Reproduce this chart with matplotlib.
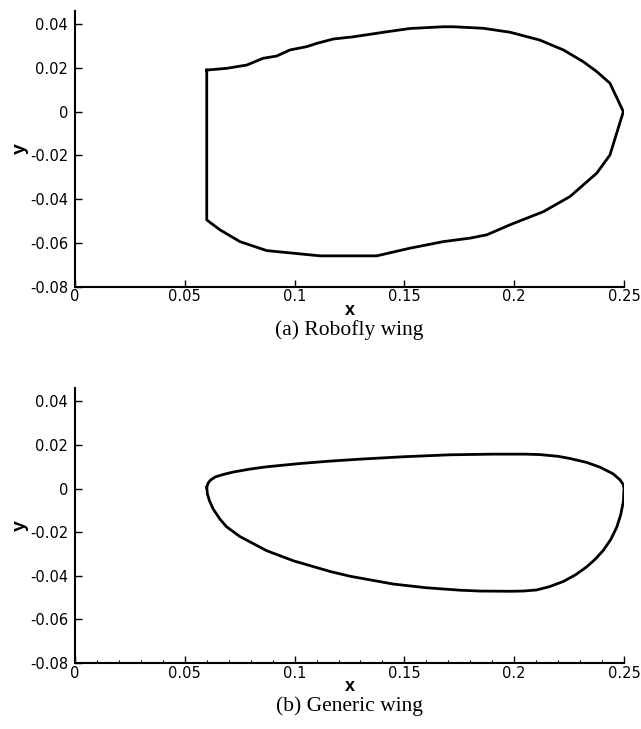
import matplotlib
matplotlib.use("Agg")
import matplotlib.pyplot as plt
from matplotlib.ticker import MultipleLocator

# Robofly wing outline (x, y)
robofly_x = [0.0600, 0.0691, 0.0782, 0.0857, 0.0918, 0.0979, 0.1055, 0.1101, 0.1176, 0.1267,
             0.1419, 0.1525, 0.1677, 0.1723, 0.1859, 0.1981, 0.2117, 0.2224, 0.2315, 0.2376,
             0.2436, 0.2497, 0.2436, 0.2376, 0.2254, 0.2133, 0.1981, 0.1875, 0.1799, 0.1677,
             0.1525, 0.1374, 0.1222, 0.1116, 0.0994, 0.0873, 0.0751, 0.0660, 0.0600, 0.0600]
robofly_y = [0.0190, 0.0198, 0.0213, 0.0244, 0.0254, 0.0282, 0.0297, 0.0312, 0.0332, 0.0342,
             0.0365, 0.0380, 0.0388, 0.0388, 0.0381, 0.0363, 0.0327, 0.0282, 0.0228, 0.0183,
             0.0130, 0.0000, -0.0198, -0.0281, -0.0388, -0.0457, -0.0517, -0.0563, -0.0578, -0.0594,
             -0.0624, -0.0659, -0.0659, -0.0659, -0.0647, -0.0635, -0.0594, -0.0540, -0.0495, 0.0190]

# Generic wing outline (x, y)
generic_x = [0.0600, 0.0606, 0.0618, 0.0640, 0.0680, 0.0721, 0.0800, 0.0873, 0.1025, 0.1161,
             0.1298, 0.1495, 0.1708, 0.1905, 0.2050, 0.2117, 0.2200, 0.2254, 0.2330, 0.2391,
             0.2450, 0.2482, 0.2497, 0.2500, 0.2497, 0.2485, 0.2467, 0.2440, 0.2406, 0.2370,
             0.2330, 0.2280, 0.2224, 0.2160, 0.2102, 0.2040, 0.1981, 0.1844, 0.1753, 0.1601,
             0.1450, 0.1252, 0.1161, 0.0994, 0.0873, 0.0751, 0.0690, 0.0660, 0.0630, 0.0612,
             0.0603, 0.0600]
generic_y = [0.0006, 0.0025, 0.0040, 0.0054, 0.0066, 0.0076, 0.0090, 0.0100, 0.0115, 0.0126,
             0.0135, 0.0146, 0.0155, 0.0158, 0.0158, 0.0156, 0.0148, 0.0138, 0.0120, 0.0098,
             0.0068, 0.0040, 0.0018, 0.0000, -0.0060, -0.0120, -0.0177, -0.0233, -0.0283, -0.0323,
             -0.0359, -0.0395, -0.0426, -0.0450, -0.0465, -0.0470, -0.0471, -0.0470, -0.0466, -0.0455,
             -0.0438, -0.0402, -0.0380, -0.0331, -0.0285, -0.0220, -0.0175, -0.0140, -0.0095, -0.0055,
             -0.0025, 0.0006]

xticks = [0, 0.05, 0.1, 0.15, 0.2, 0.25]
xticklabels = ["0", "0.05", "0.1", "0.15", "0.2", "0.25"]
yticks = [-0.08, -0.06, -0.04, -0.02, 0, 0.02, 0.04]
yticklabels = ["-0.08", "-0.06", "-0.04", "-0.02", "0", "0.02", "0.04"]
captions = ["(a) Robofly wing", "(b) Generic wing"]

W, H = 641, 729
fig = plt.figure(figsize=(W / 100, H / 100), dpi=100)

def make_axes(top_px, bottom_px):
    left = 75 / W
    width = 549 / W
    bottom = 1 - bottom_px / H
    height = (bottom_px - top_px) / H
    return fig.add_axes([left, bottom, width, height])

axes_px = [(11, 286.7), (388.3, 663)]
outlines = [(robofly_x, robofly_y), (generic_x, generic_y)]

for i, ((t, b), (xs, ys)) in enumerate(zip(axes_px, outlines)):
    ax = make_axes(t, b)
    ax.plot(xs, ys, color="black", lw=2.0, solid_joinstyle="round")
    ax.set_xlim(0, 0.25)
    ax.set_ylim(-0.08, 0.046)
    for s in ["top", "right"]:
        ax.spines[s].set_visible(False)
    for s in ["left", "bottom"]:
        ax.spines[s].set_linewidth(1.5)
    ax.set_xticks(xticks)
    ax.set_xticklabels(xticklabels, fontsize=10.5, family="DejaVu Sans")
    ax.set_yticks(yticks)
    ax.set_yticklabels(yticklabels, fontsize=10.5, family="DejaVu Sans")
    ax.tick_params(axis="both", which="major", direction="in", length=5, width=1.0)
    ax.tick_params(axis="x", which="major", pad=2)
    ax.tick_params(axis="y", which="major", pad=5)
    if i == 1:
        ax.xaxis.set_minor_locator(MultipleLocator(0.01))
        ax.tick_params(axis="x", which="minor", direction="in", length=2, width=0.8)
    ax.set_xlabel("x", fontsize=13, fontweight="bold", family="Liberation Sans", labelpad=-2)
    ax.set_ylabel("y", fontsize=14, fontweight="bold", family="Liberation Sans", labelpad=1)
    cap_y = 1 - (b + 43) / H
    fig.text(349.5 / W, cap_y, captions[i], ha="center", va="center",
             fontsize=15.5, family="Liberation Serif")

fig.savefig("out.png", dpi=100, facecolor="white")
